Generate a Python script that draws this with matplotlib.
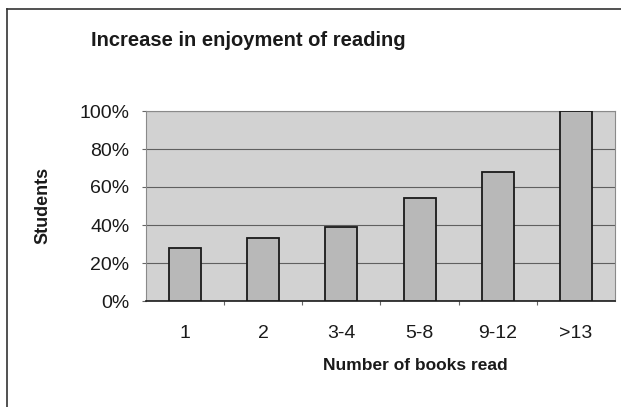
import matplotlib
matplotlib.use("Agg")
import matplotlib.pyplot as plt
from matplotlib.lines import Line2D
from matplotlib.ticker import FixedLocator, PercentFormatter

categories = ["1", "2", "3-4", "5-8", "9-12", ">13"]
students_pct = [28, 33, 39, 54, 68, 100]
y_ticks = [0, 20, 40, 60, 80, 100]

plt.rcParams["font.family"] = ["Liberation Sans", "DejaVu Sans"]

W, H = 621, 407
fig = plt.figure(figsize=(W / 100, H / 100), dpi=100)
fig.patch.set_facecolor("white")

ax = fig.add_axes([146 / W, 1 - 301 / H, 469 / W, 190 / H])
ax.set_facecolor("#d2d2d2")

x = list(range(len(categories)))
ax.bar(x, students_pct, width=0.41, color="#b8b8b8", edgecolor="#1a1a1a",
       linewidth=1.3, zorder=3)

ax.set_xlim(-0.5, len(categories) - 0.5)
ax.set_ylim(0, 100)

ax.yaxis.set_major_locator(FixedLocator(y_ticks))
ax.yaxis.set_major_formatter(PercentFormatter(decimals=0))
ax.grid(axis="y", color="#606060", linewidth=0.8, zorder=1)

ax.set_xticks(x)
ax.set_xticklabels(categories)
ax.set_xticks([i + 0.5 for i in x[:-1]], minor=True)
ax.tick_params(axis="x", which="major", length=0, pad=17, labelsize=14,
               colors="#1a1a1a")
ax.tick_params(axis="x", which="minor", length=3, width=0.8, color="#666666")
ax.tick_params(axis="y", length=3, width=0.8, color="#666666", pad=9,
               labelsize=14, labelcolor="#1a1a1a")

for side in ("top", "right", "left"):
    ax.spines[side].set_color("#8a8a8a")
    ax.spines[side].set_linestyle((0, (1, 1)))
    ax.spines[side].set_linewidth(0.8)
ax.spines["bottom"].set_color("#1a1a1a")
ax.spines["bottom"].set_linewidth(1.2)

fig.text(248 / W, 1 - 40 / H, "Increase in enjoyment of reading",
         ha="center", va="center", fontsize=14.5, fontweight="bold",
         color="#1a1a1a")
fig.text(415 / W, 1 - 365 / H, "Number of books read", ha="center",
         va="center", fontsize=12.5, fontweight="bold", color="#1a1a1a")
fig.text(43 / W, 1 - 205 / H, "Students", ha="center", va="center",
         rotation=90, fontsize=13, fontweight="bold", color="#1a1a1a")

# chart frame
fig.add_artist(Line2D([7 / W, 7 / W], [0, 1 - 9 / H], transform=fig.transFigure,
                      color="#333333", linewidth=1.2))
fig.add_artist(Line2D([7 / W, 1], [1 - 9 / H, 1 - 9 / H], transform=fig.transFigure,
                      color="#333333", linewidth=1.2))

fig.savefig("out.png", dpi=100, facecolor="white")
